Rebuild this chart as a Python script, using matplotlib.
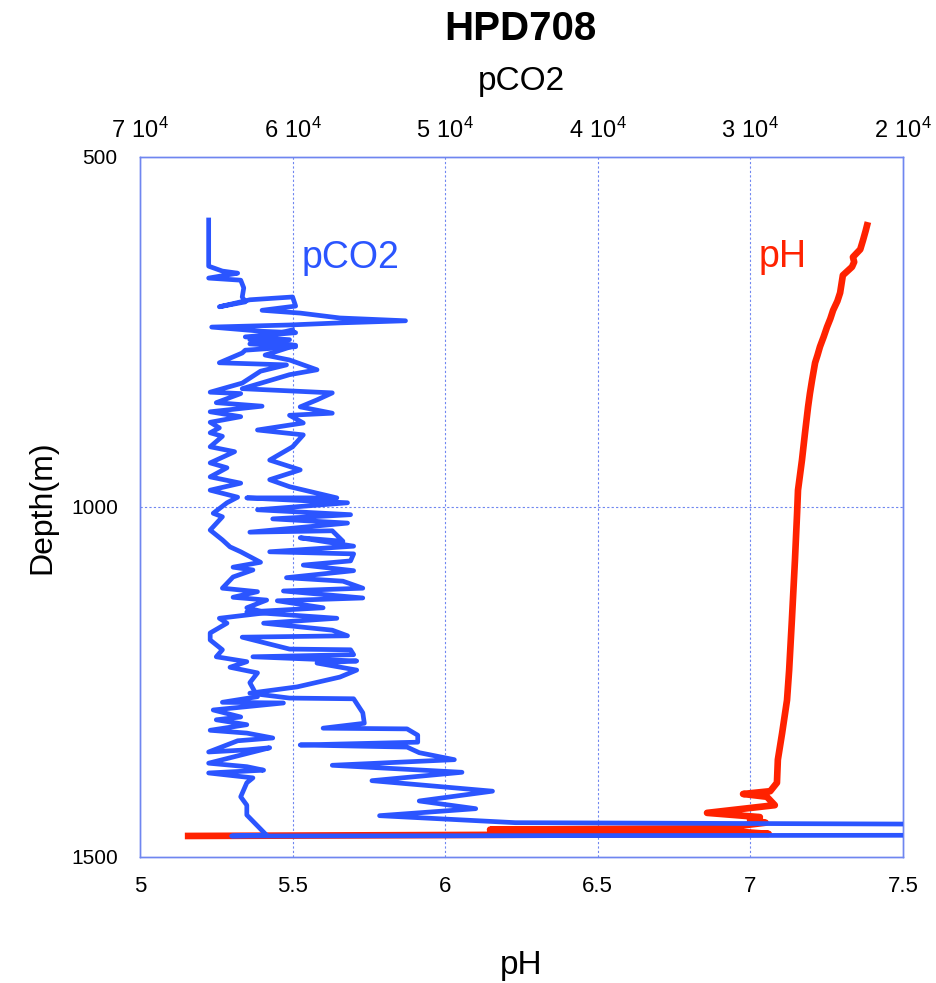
import matplotlib
matplotlib.use("Agg")
import matplotlib.pyplot as plt

# ---------------- data ----------------
title = "HPD708"

ph_ticks = [5, 5.5, 6, 6.5, 7, 7.5]
ph_tick_labels = ["5", "5.5", "6", "6.5", "7", "7.5"]
pco2_ticks = [70000, 60000, 50000, 40000, 30000, 20000]
pco2_tick_labels = [r"$\mathregular{7\ 10^{4}}$", r"$\mathregular{6\ 10^{4}}$",
                    r"$\mathregular{5\ 10^{4}}$", r"$\mathregular{4\ 10^{4}}$",
                    r"$\mathregular{3\ 10^{4}}$", r"$\mathregular{2\ 10^{4}}$"]
depth_ticks = [500, 1000, 1500]

# pH profile
ph_values = [7.385, 7.378, 7.369, 7.360, 7.336, 7.340, 7.333, 7.318, 7.303, 7.294,
             7.285, 7.271, 7.262, 7.251, 7.240, 7.228, 7.220, 7.212, 7.202, 7.195,
             7.189, 7.179, 7.169, 7.156, 7.153, 7.146, 7.136, 7.127, 7.120,
             7.104, 7.090, 7.087, 7.065, 6.976, 7.054, 7.080, 6.858, 7.031, 6.999,
             7.050, 6.900, 6.147, 6.900, 7.060, 5.147]
ph_depth = [593, 605, 619, 632, 643, 650, 657, 663, 669, 694,
            706, 719, 731, 743, 757, 771, 783, 794, 819, 838,
            857, 894, 933, 976, 1009, 1076, 1161, 1233, 1276,
            1323, 1361, 1394, 1406, 1410, 1414, 1426, 1437, 1443, 1447,
            1451, 1459, 1461, 1462, 1467, 1470]

# pCO2 profile, descending leg
pco2_down = [65500, 65500, 64600, 63600, 65500, 63400, 63200, 63300, 63100, 64800,
             62800, 60000, 59800, 62000, 59500, 56900, 52600, 56900, 60200, 65300,
             62000, 59800, 63100, 60200, 62800, 59800, 63100, 63300, 64800, 60400,
             62100, 63300, 65400, 63400, 65000, 62000, 65400, 63400, 65400, 64800,
             65400, 64600, 65400, 63800, 65400, 64300, 65400, 63400, 65400, 63600,
             64300, 65200, 64600, 65400, 64600, 64100, 63400, 62100, 63900, 62600,
             63900, 64600, 62300, 63900, 61700, 63000, 61700, 64800, 64300, 65400,
             65400, 64600, 65000, 63000, 64100, 62300, 62800, 62300, 64600, 60600,
             65200, 63400, 65000, 63000, 65400, 63000, 61300, 63600, 65500, 63000,
             61500, 65500, 63000, 61900, 65500, 62600, 63000, 63400, 63000, 63000,
             61700, 64000, 19500]
depth_down = [590, 656, 663, 666, 673, 676, 687, 700, 707, 714,
              704, 700, 713, 719, 723, 730, 734, 737, 740, 743,
              749, 751, 757, 761, 767, 771, 776, 780, 794, 797,
              806, 823, 836, 838, 851, 856, 864, 871, 879, 887,
              894, 899, 914, 921, 937, 944, 957, 966, 976, 986,
              994, 1009, 1014, 1033, 1047, 1057, 1064, 1079, 1086, 1090,
              1100, 1116, 1121, 1129, 1133, 1144, 1151, 1159, 1166, 1180,
              1190, 1204, 1214, 1221, 1229, 1237, 1251, 1271, 1279, 1280,
              1290, 1300, 1304, 1311, 1319, 1323, 1330, 1334, 1350, 1347,
              1344, 1366, 1371, 1376, 1380, 1387, 1394, 1414, 1426, 1440,
              1469, 1470, 1469]

# pCO2 profile, ascending leg
pco2_up = [19500, 45400, 54300, 48000, 51700, 46900, 54800, 48900, 57400, 49400,
           51700, 52500, 59500, 51800, 51800, 52500, 58000, 55300, 55400, 56000,
           60200, 62800, 59700, 56900, 55800, 58400, 55800, 62600, 56000, 56200,
           60200, 63300, 56400, 57400, 61900, 57100, 63000, 58000, 61000, 55400,
           60600, 55400, 56700, 60400, 56000, 59300, 56200, 56000, 61500, 56000,
           59500, 56700, 57400, 62800, 56400, 61300, 56200, 62300, 56400, 63000,
           57100, 60200, 61500, 59500, 61500, 60000, 59300, 62300, 59300, 60200,
           57400, 59500, 58400, 57400, 63300, 60200, 58400, 60200, 61800, 59800,
           62800, 60000]
depth_up = [1453, 1451, 1441, 1431, 1420, 1406, 1391, 1379, 1369, 1361,
            1351, 1343, 1340, 1336, 1326, 1317, 1316, 1309, 1294, 1274,
            1273, 1266, 1257, 1243, 1233, 1223, 1220, 1214, 1211, 1204,
            1203, 1186, 1184, 1176, 1166, 1159, 1150, 1144, 1134, 1130,
            1120, 1116, 1106, 1101, 1091, 1083, 1077, 1067, 1064, 1056,
            1044, 1049, 1034, 1036, 1023, 1017, 1011, 1004, 994, 987,
            987, 971, 961, 947, 933, 914, 897, 890, 880, 869,
            866, 857, 847, 837, 831, 811, 804, 790, 783, 769,
            761, 747]

# ---------------- style ----------------
BLUE = "#2b55ff"
RED = "#ff2200"
AXC = "#6f86f0"
plt.rcParams["font.family"] = ["Liberation Sans", "DejaVu Sans"]

fig = plt.figure(figsize=(9.37, 9.83), dpi=100)
ax = fig.add_axes([0.1494, 0.1282, 0.8143, 0.7121])
ax.set_xlim(5, 7.5)
ax.set_ylim(1500, 500)

ax.plot(ph_values, ph_depth, color=RED, lw=4.8, solid_joinstyle="round",
        solid_capstyle="butt", zorder=3)

ax2 = ax.twiny()
ax2.set_xlim(70000, 20000)
ax2.set_ylim(1500, 500)
ax2.plot(pco2_down, depth_down, color=BLUE, lw=3.4, solid_joinstyle="round", zorder=4)
ax2.plot(pco2_up, depth_up, color=BLUE, lw=3.4, solid_joinstyle="round", zorder=4)

# grid lines
for gx in ph_ticks[1:-1]:
    ax.axvline(gx, color=AXC, lw=0.8, ls=(0, (2, 2)), zorder=1)
ax.axhline(1000, color=AXC, lw=0.8, ls=(0, (2, 2)), zorder=1)

for a in (ax, ax2):
    for s in a.spines.values():
        s.set_color(AXC)
        s.set_linewidth(1.0)

ax.set_xticks(ph_ticks)
ax.set_xticklabels(ph_tick_labels)
ax.set_yticks(depth_ticks)
ax.set_yticklabels([str(d) for d in depth_ticks])
ax.tick_params(axis="x", length=0, labelsize=16, pad=14)
ax.tick_params(axis="y", length=0, labelsize=15, pad=16)

ax2.set_xticks(pco2_ticks)
ax2.set_xticklabels(pco2_tick_labels)
ax2.tick_params(axis="x", length=0, labelsize=17, pad=10)

ax.set_xlabel("pH", fontsize=24, labelpad=38)
ax.set_ylabel("Depth(m)", fontsize=23, labelpad=10)
ax2.set_xlabel("pCO2", fontsize=24, labelpad=20)

fig.text(0.555, 0.971, title, ha="center", va="center", fontsize=29, fontweight="bold")

ax2.text(56200, 644, "pCO2", color=BLUE, fontsize=27, ha="center", va="center")
ax.text(7.107, 643, "pH", color=RED, fontsize=27, ha="center", va="center")

fig.savefig("out.png", dpi=100)
